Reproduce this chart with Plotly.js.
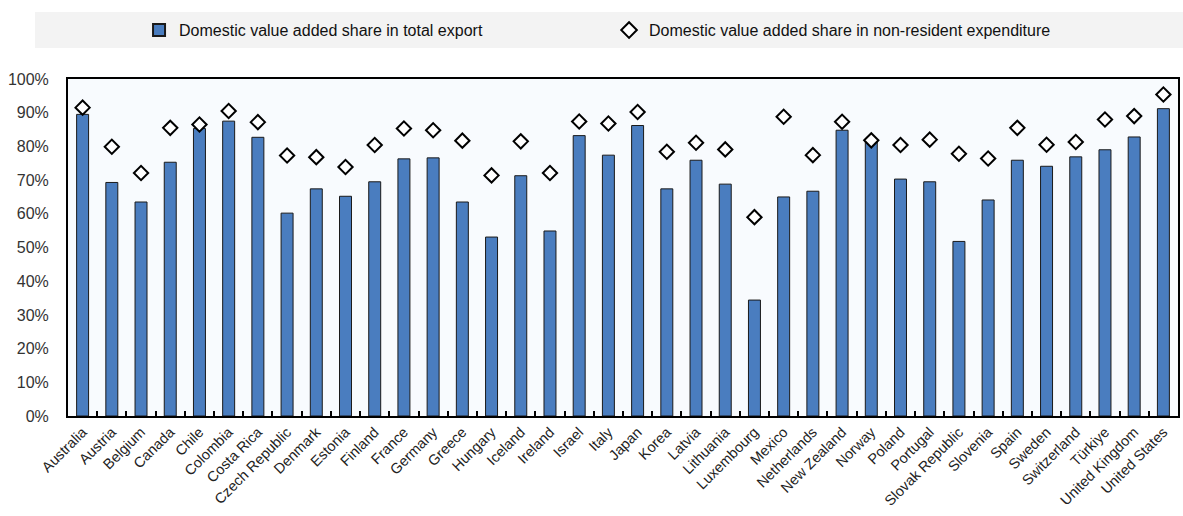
<!DOCTYPE html>
<html>
<head>
<meta charset="utf-8">
<script src="https://cdn.plot.ly/plotly-3.0.1.min.js"></script>
<style>
html,body{margin:0;padding:0;background:#fff;}
#chart{width:1183px;height:516px;}
</style>
</head>
<body>
<div id="chart"></div>
<script>
const countries = ["Australia","Austria","Belgium","Canada","Chile","Colombia","Costa Rica","Czech Republic","Denmark","Estonia","Finland","France","Germany","Greece","Hungary","Iceland","Ireland","Israel","Italy","Japan","Korea","Latvia","Lithuania","Luxembourg","Mexico","Netherlands","New Zealand","Norway","Poland","Portugal","Slovak Republic","Slovenia","Spain","Sweden","Switzerland","Türkiye","United Kingdom","United States"];
const exportShare = [89.5,69.3,63.5,75.3,85.3,87.5,82.7,60.2,67.4,65.2,69.5,76.3,76.6,63.5,53.1,71.3,54.9,83.2,77.4,86.2,67.4,75.9,68.8,34.4,65.0,66.7,84.8,82.0,70.3,69.5,51.8,64.1,75.9,74.1,76.9,79.0,82.8,91.2];
const nonResidentShare = [91.5,79.9,72.1,85.5,86.5,90.5,87.2,77.3,76.8,73.9,80.4,85.3,84.8,81.7,71.4,81.5,72.1,87.4,86.8,90.2,78.4,81.1,79.1,59.0,88.8,77.4,87.3,81.8,80.4,82.0,77.8,76.4,85.5,80.5,81.3,88.0,89.0,95.4];
const seriesNames = ["Domestic value added share in total export","Domestic value added share in non-resident expenditure"];
const yTickVals = [0,10,20,30,40,50,60,70,80,90,100];
const yTickText = ["0%","10%","20%","30%","40%","50%","60%","70%","80%","90%","100%"];

const FONT = "'Liberation Sans',Arial,sans-serif";

const traces = [
  {
    type: "bar",
    x: countries,
    y: exportShare,
    name: seriesNames[0],
    marker: {color: "#4a7dbf", line: {color: "#1a1a1a", width: 1}},
    hoverinfo: "x+y"
  },
  {
    type: "scatter",
    mode: "markers",
    x: countries,
    y: nonResidentShare,
    name: seriesNames[1],
    marker: {symbol: "diamond", size: 11, color: "#ffffff", line: {color: "#000000", width: 2}},
    hoverinfo: "x+y"
  }
];

const layout = {
  width: 1183,
  height: 516,
  margin: {l: 68, r: 5, t: 79, b: 100},
  paper_bgcolor: "#ffffff",
  plot_bgcolor: "#f8fbfe",
  font: {family: FONT, size: 15, color: "#222"},
  bargap: 0.59,
  showlegend: true,
  legend: {
    orientation: "h",
    x: 0.064, xanchor: "left",
    y: 1.145, yanchor: "middle",
    bgcolor: "rgba(0,0,0,0)",
    font: {family: FONT, size: 16, color: "#111"},
    entrywidth: 425,
    itemsizing: "constant",
    traceorder: "normal"
  },
  xaxis: {
    type: "category",
    range: [-0.5, 37.5],
    tickangle: -45,
    showline: true, linecolor: "#000", linewidth: 2, mirror: true,
    ticks: "inside", ticklen: 5, tickcolor: "#000", tickwidth: 2,
    tickson: "boundaries",
    showgrid: false,
    tickfont: {family: FONT, size: 14.5, color: "#222"},
    automargin: false
  },
  yaxis: {
    range: [0, 100],
    tickmode: "array",
    tickvals: yTickVals,
    ticktext: yTickText,
    showline: true, linecolor: "#000", linewidth: 2, mirror: true,
    ticks: "", showgrid: false, zeroline: false,
    ticklabelstandoff: 14,
    tickfont: {family: FONT, size: 16, color: "#333"},
    automargin: false
  },
  shapes: [
    {type: "rect", xref: "paper", yref: "paper", x0: -0.0297, x1: 1.0045, y0: 1.092, y1: 1.199,
     fillcolor: "#f3f3f3", line: {width: 0}, layer: "below"}
  ]
};

Plotly.newPlot("chart", traces, layout, {displayModeBar: false, staticPlot: true});
</script>
</body>
</html>
